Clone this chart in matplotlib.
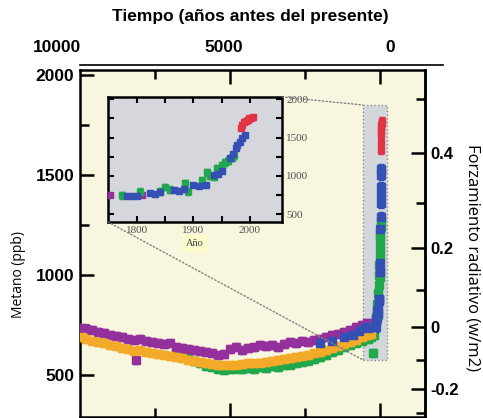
import matplotlib.pyplot as plt
import numpy as np
from matplotlib.patches import Rectangle, ConnectionPatch

# --- data ---
# Holocene ice-core records, years before present (1950)
purple_bp = [9950, 9800, 9600, 9400, 9200, 9000, 8800, 8600, 8400, 8200, 8150,
             8000, 7800, 7600, 7400, 7200, 7000, 6800, 6600, 6400, 6200, 6000,
             5800, 5600, 5400, 5200, 5000, 4800, 4600, 4400, 4200, 4000, 3800,
             3600, 3400, 3200, 3000, 2800, 2600, 2400, 2200, 2000, 1800, 1600,
             1400, 1200, 1000, 800, 600, 450, 350]
purple_ch4 = [735, 730, 725, 715, 710, 700, 695, 690, 680, 675, 575,
              680, 670, 665, 660, 655, 660, 640, 635, 630, 625, 620,
              615, 610, 600, 605, 630, 640, 625, 635, 640, 650, 645,
              650, 640, 655, 665, 660, 670, 665, 675, 680, 690, 700,
              705, 715, 725, 740, 750, 760, 755]

orange_bp = [9950, 9800, 9600, 9400, 9200, 9000, 8800, 8600, 8400, 8200, 8000,
             7800, 7600, 7400, 7200, 7000, 6800, 6600, 6400, 6200, 6000, 5800,
             5600, 5400, 5200, 5000, 4800, 4600, 4400, 4200, 4000, 3800, 3600,
             3400, 3200, 3000, 2800, 2600, 2400, 2200, 2000, 1800, 1600, 1400,
             1200, 1000, 800, 600, 450, 300]
orange_ch4 = [690, 680, 670, 665, 660, 650, 645, 635, 630, 620, 625,
              615, 610, 605, 600, 595, 590, 585, 575, 570, 565, 560,
              555, 550, 548, 550, 552, 555, 560, 558, 562, 565, 570,
              575, 580, 585, 590, 595, 600, 610, 615, 625, 635, 645,
              655, 665, 675, 690, 700, 705]

green_bp = [6800, 6600, 6400, 6200, 6000, 5800, 5600, 5400, 5200, 5000, 4800,
            4600, 4400, 4200, 4000, 3800, 3600, 3400, 3200, 3000, 2800, 2600,
            2400, 2200, 2000, 1800, 1600, 1400, 1200, 1000, 800, 600, 400,
            300, 250, 200]
green_ch4 = [610, 600, 585, 570, 560, 545, 540, 530, 525, 528, 532,
             530, 535, 530, 540, 535, 545, 540, 548, 552, 560, 565,
             572, 580, 590, 600, 615, 625, 640, 650, 660, 670, 680,
             690, 610, 700]

blue_bp = [2000, 1600, 1200, 900, 700, 500, 400]
blue_ch4 = [660, 670, 690, 700, 720, 740, 735]

# industrial era (inset), calendar years
inset_green_year = [1773, 1805, 1841, 1850, 1858, 1885, 1890, 1915, 1924,
                    1930, 1936, 1942, 1950, 1956, 1962, 1968, 1972]
inset_green_ch4 = [750, 792, 800, 857, 820, 909, 800, 948, 1050,
                   1000, 990, 1100, 1140, 1180, 1200, 1240, 1270]
inset_blue_year = [1782, 1792, 1800, 1823, 1832, 1841, 1865, 1874, 1883, 1900,
                   1910, 1923, 1936, 1943, 1950, 1965, 1970, 1975, 1978, 1982,
                   1986, 1991]
inset_blue_ch4 = [740, 745, 740, 780, 770, 785, 818, 810, 830, 880,
                  870, 880, 1013, 1020, 1060, 1230, 1290, 1360, 1400, 1440,
                  1500, 1530]
inset_red_year = [1984, 1987, 1990, 1993, 1996, 1999, 2002, 2005]
inset_red_ch4 = [1625, 1660, 1700, 1720, 1735, 1750, 1760, 1770]
inset_purple_year = [1752, 1810]
inset_purple_ch4 = [753, 753]

top_ticks = [10000, 5000, 0]
ch4_ticks = [500, 1000, 1500, 2000]
forcing_ticks = [0.4, 0.2, 0, -0.2]
forcing_minor = [0.5, 0.3, 0.1, -0.1, -0.3]
zoom_box = (567, -233, 575, 1850)   # bp_left, bp_right, ch4_low, ch4_high

PRESENT = 1950
K_FORCE, M0 = 0.031, 740.0

C_PURPLE = '#94309c'
C_ORANGE = '#f2aa28'
C_GREEN = '#22a84c'
C_BLUE = '#3450b4'
C_RED = '#e23444'
BG = '#f9f6e0'
INSET_BG = '#d5d7dc'

plt.rcParams['font.family'] = ['Liberation Sans', 'DejaVu Sans']

fig = plt.figure(figsize=(4.83, 4.18), dpi=100)
W, H = 483, 418

ax = fig.add_axes([80 / W, 1.5 / H, 345 / W, (416.5 - 70) / H])
ax.set_facecolor(BG)
ax.set_xlim(10000, -1500)
ax.set_ylim(292, 2025)

# highlighted region of the inset
r = Rectangle((zoom_box[0], zoom_box[2]), zoom_box[1] - zoom_box[0],
              zoom_box[3] - zoom_box[2], facecolor='#d3d7db', edgecolor='#8a8a8a',
              linestyle=':', linewidth=1, zorder=1)
ax.add_patch(r)


def pts(a, x, y, c, ms=6, err=18, z=3):
    a.errorbar(x, y, yerr=err, fmt='s', ms=ms, color=c, mec=c, elinewidth=1.5,
               capsize=2, zorder=z)


pts(ax, green_bp, green_ch4, C_GREEN, z=2)
pts(ax, purple_bp, purple_ch4, C_PURPLE)
pts(ax, orange_bp, orange_ch4, C_ORANGE)
pts(ax, blue_bp, blue_ch4, C_BLUE)
pts(ax, [PRESENT - y for y in inset_green_year], inset_green_ch4, C_GREEN, ms=5.5, err=40)
pts(ax, [PRESENT - y for y in inset_blue_year], inset_blue_ch4, C_BLUE, ms=5.5, err=25)
pts(ax, [PRESENT - y for y in inset_red_year], inset_red_ch4, C_RED, ms=4, err=20)

ax.set_xticks([5000, 0])
ax.set_xticks([7500, 2500], minor=True)
ax.set_yticks(ch4_ticks)
ax.set_yticks([750, 1250, 1750], minor=True)
ax.tick_params(which='both', direction='in', top=True, bottom=True, left=True,
               right=False, width=1.8, labelbottom=False)
ax.tick_params(which='major', length=10)
ax.tick_params(which='minor', length=6.5)
ax.tick_params(axis='y', labelsize=12.5, pad=4)
for lab in ax.get_yticklabels():
    lab.set_fontweight('bold')
for s in ax.spines.values():
    s.set_linewidth(1.8)

# radiative forcing axis
sec = ax.secondary_yaxis(
    'right',
    functions=(lambda m: K_FORCE * (np.sqrt(np.maximum(m, 0)) - np.sqrt(M0)),
               lambda f: np.maximum(f / K_FORCE + np.sqrt(M0), 0) ** 2))
sec.set_yticks(forcing_ticks)
sec.set_yticks(forcing_minor, minor=True)
sec.set_yticklabels(['0.4', '0.2', '0', '-0.2'], fontsize=12, fontweight='bold')
sec.tick_params(which='both', direction='in', width=1.8, pad=4)
sec.tick_params(which='major', length=10)
sec.tick_params(which='minor', length=6.5)
sec.spines['right'].set_linewidth(1.8)

# top time axis (offset from the box)
axt = fig.add_axes([57 / W, 1 - 65 / H, 386 / W, 1e-4])
axt.patch.set_visible(False)
axt.set_xlim(10000, -1592)
for k in ['left', 'right', 'bottom']:
    axt.spines[k].set_visible(False)
axt.spines['top'].set_linewidth(1.2)
axt.spines['top'].set_bounds(9309, -1592)
axt.set_yticks([])
axt.set_xticks(top_ticks)
axt.set_xticklabels([str(t) for t in top_ticks], fontsize=12.5, fontweight='bold')
axt.tick_params(axis='x', top=True, bottom=False, labeltop=True,
                labelbottom=False, length=0, pad=7)

fig.text(250 / W, 1 - 17 / H, 'Tiempo (años antes del presente)',
         ha='center', va='center', fontsize=12.5, fontweight='bold')
fig.text(19 / W, 1 - 275 / H, 'Metano (ppb)', rotation=90, ha='center',
         va='center', fontsize=10, family=['Open Sans', 'DejaVu Sans'])
fig.text(473 / W, 1 - 257 / H, 'Forzamiento radiativo (w/m2)', rotation=270,
         ha='center', va='center', fontsize=12, family=['Open Sans', 'DejaVu Sans'])

# inset
axi = fig.add_axes([108 / W, 1 - 222 / H, 174 / W, 125 / H])
axi.set_facecolor(INSET_BG)
axi.set_xlim(1749, 2057)
axi.set_ylim(400, 2030)
pts(axi, inset_purple_year, inset_purple_ch4, C_PURPLE, ms=4, err=20)
pts(axi, inset_green_year, inset_green_ch4, C_GREEN, ms=4, err=45)
pts(axi, inset_blue_year, inset_blue_ch4, C_BLUE, ms=4, err=20)
pts(axi, inset_red_year, inset_red_ch4, C_RED, ms=4, err=15)
axi.set_xticks([1800, 1850, 1900, 1950, 2000])
axi.set_xticklabels(['1800', '', '1900', '', '2000'])
axi.set_yticks([500, 750, 1000, 1250, 1500, 1750, 2000])
axi.set_yticklabels(['500', '', '1000', '', '1500', '', '2000'])
axi.tick_params(direction='in', top=True, right=True, left=True, bottom=True,
                labelleft=False, labelright=True, length=4, width=1.5,
                labelsize=8, labelcolor='#505050', pad=3)
for lab in axi.get_xticklabels() + axi.get_yticklabels():
    lab.set_family(['Liberation Serif', 'DejaVu Serif'])
for s in axi.spines.values():
    s.set_linewidth(1.8)
axi.set_xlabel('Año', fontsize=7.5, family=['Liberation Serif', 'DejaVu Serif'],
               color='#404040', labelpad=3,
               bbox=dict(facecolor='#fcfbcc', edgecolor='none', pad=3))

# dotted lines linking the inset to the highlighted region
for xa, ya, yb in [(1, 1, zoom_box[3]), (0, 0, zoom_box[2])]:
    cp = ConnectionPatch(xyA=(xa, ya), coordsA=axi.transAxes,
                         xyB=(zoom_box[0], yb), coordsB=ax.transData,
                         color='#808080', linestyle=':', linewidth=1)
    fig.add_artist(cp)

fig.savefig('out.png', dpi=100)
